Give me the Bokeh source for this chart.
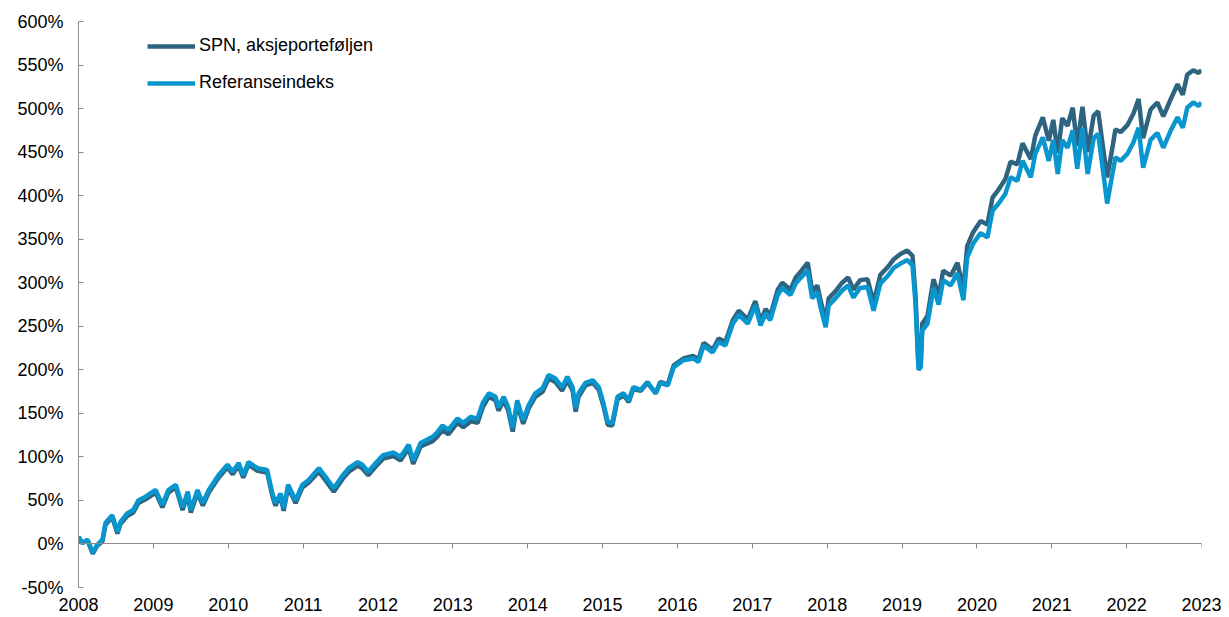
from bokeh.plotting import figure
from bokeh.models import (Range1d, FixedTicker, PrintfTickFormatter, LinearAxis,
                          Legend, LegendItem)
from bokeh.embed import file_html
from bokeh.resources import INLINE

YEARS = [
    2008.00, 2008.05, 2008.12, 2008.19, 2008.25, 2008.32, 2008.36, 2008.45, 2008.52, 2008.56,
    2008.65, 2008.73, 2008.80, 2008.89, 2009.03, 2009.12, 2009.20, 2009.30, 2009.39, 2009.46,
    2009.50, 2009.59, 2009.66, 2009.74, 2009.87, 2009.99, 2010.06, 2010.14, 2010.20, 2010.27,
    2010.39, 2010.52, 2010.59, 2010.63, 2010.70, 2010.74, 2010.80, 2010.90, 2010.99, 2011.07,
    2011.21, 2011.30, 2011.41, 2011.53, 2011.61, 2011.73, 2011.79, 2011.87, 2011.97, 2012.07,
    2012.21, 2012.30, 2012.41, 2012.47, 2012.57, 2012.73, 2012.79, 2012.86, 2012.94, 2013.06,
    2013.14, 2013.24, 2013.33, 2013.40, 2013.48, 2013.57, 2013.61, 2013.68, 2013.74, 2013.80,
    2013.86, 2013.94, 2014.01, 2014.10, 2014.20, 2014.28, 2014.37, 2014.46, 2014.53, 2014.60,
    2014.64, 2014.68, 2014.77, 2014.87, 2014.95, 2015.01, 2015.07, 2015.13, 2015.20, 2015.28,
    2015.35, 2015.41, 2015.51, 2015.60, 2015.71, 2015.77, 2015.87, 2015.95, 2016.08, 2016.21,
    2016.28, 2016.35, 2016.47, 2016.55, 2016.64, 2016.74, 2016.82, 2016.94, 2017.04, 2017.11,
    2017.18, 2017.24, 2017.34, 2017.40, 2017.51, 2017.58, 2017.64, 2017.74, 2017.80, 2017.87,
    2017.91, 2017.98, 2018.02, 2018.11, 2018.20, 2018.28, 2018.35, 2018.44, 2018.54, 2018.62,
    2018.71, 2018.81, 2018.89, 2018.98, 2019.07, 2019.14, 2019.18, 2019.22, 2019.25, 2019.27,
    2019.34, 2019.42, 2019.49, 2019.55, 2019.65, 2019.74, 2019.82, 2019.87, 2019.95, 2020.05,
    2020.14, 2020.21, 2020.29, 2020.38, 2020.45, 2020.54, 2020.61, 2020.72, 2020.78, 2020.88,
    2020.96, 2021.02, 2021.08, 2021.14, 2021.21, 2021.28, 2021.34, 2021.41, 2021.48, 2021.56,
    2021.62, 2021.69, 2021.74, 2021.81, 2021.85, 2021.92, 2022.01, 2022.09, 2022.16, 2022.22,
    2022.32, 2022.41, 2022.49, 2022.59, 2022.68, 2022.75, 2022.81, 2022.89, 2022.96, 2023.00,
]

REFERANSE = [
    8, 1, 5, -10, -1, 5, 24, 33, 14, 25,
    35, 39, 50, 54, 62, 45, 62, 68, 42, 60,
    39, 62, 47, 62, 79, 91, 83, 93, 79, 94,
    87, 85, 58, 47, 58, 41, 68, 50, 68, 73,
    87, 77, 64, 79, 87, 94, 91, 83, 93, 102,
    105, 100, 114, 96, 116, 123, 128, 136, 131, 144,
    139, 146, 144, 162, 173, 169, 157, 169, 157, 133,
    165, 142, 159, 173, 179, 194, 190, 180, 192, 180,
    156, 173, 185, 188, 180, 162, 140, 139, 169, 173,
    165, 180, 177, 186, 173, 185, 182, 203, 211, 213,
    209, 228, 220, 232, 228, 253, 263, 253, 274, 251,
    265, 257, 286, 294, 286, 299, 305, 314, 282, 289,
    272, 249, 274, 282, 291, 297, 283, 294, 295, 268,
    299, 308, 317, 322, 326, 320, 276, 200, 203, 245,
    253, 294, 275, 303, 297, 311, 280, 329, 345, 357,
    352, 383, 391, 402, 421, 417, 440, 421, 448, 467,
    440, 464, 425, 464, 455, 475, 431, 477, 425, 466,
    471, 425, 391, 425, 444, 440, 448, 461, 478, 432,
    464, 472, 455, 475, 490, 478, 501, 507, 503, 507,
]

SPN = [
    8, 1, 4, -11, -2, 3, 22, 31, 12, 23,
    32, 36, 47, 51, 59, 42, 59, 65, 39, 57,
    36, 59, 44, 59, 76, 88, 80, 90, 76, 91,
    84, 82, 55, 44, 55, 38, 65, 47, 65, 70,
    83, 73, 60, 75, 83, 90, 87, 79, 89, 98,
    101, 96, 110, 92, 112, 118, 123, 131, 126, 139,
    134, 141, 139, 157, 169, 165, 153, 165, 153, 129,
    161, 138, 155, 169, 175, 190, 186, 176, 188, 176,
    152, 169, 182, 185, 177, 159, 137, 136, 166, 171,
    163, 178, 176, 185, 173, 186, 183, 205, 213, 216,
    212, 231, 223, 236, 232, 257, 268, 258, 279, 256,
    270, 262, 292, 300, 292, 306, 312, 323, 290, 297,
    280, 256, 282, 290, 300, 306, 292, 303, 304, 277,
    309, 318, 327, 333, 337, 331, 285, 205, 209, 253,
    262, 304, 285, 314, 308, 323, 292, 342, 358, 371,
    367, 398, 407, 419, 439, 436, 460, 442, 469, 490,
    463, 487, 449, 489, 480, 501, 457, 502, 450, 492,
    497, 452, 421, 455, 476, 473, 481, 494, 511, 466,
    499, 507, 491, 511, 528, 516, 539, 544, 541, 544,
]

X_TICKS = list(range(2008, 2024))
Y_TICKS = list(range(-50, 601, 50))
SERIES_NAMES = ["SPN, aksjeporteføljen", "Referanseindeks"]

FONT = "Liberation Sans"
FS = "18px"
AXIS_GREY = "#8c8c8c"
DARK = "#2f6480"
LIGHT = "#0996cf"

p = figure(width=1229, height=617, output_backend="svg", toolbar_location=None,
           x_range=Range1d(2008, 2023), y_range=Range1d(-50, 600),
           min_border_left=78, min_border_right=28, min_border_top=21,
           min_border_bottom=30)
p.outline_line_color = None
p.xgrid.visible = False
p.ygrid.visible = False
p.background_fill_color = "white"
p.border_fill_color = "white"

# bottom axis: labels only
xa = p.xaxis[0]
xa.ticker = FixedTicker(ticks=X_TICKS)
xa.formatter = PrintfTickFormatter(format="%d")
xa.axis_line_alpha = 0
xa.major_tick_in = 0
xa.major_tick_out = 0
xa.minor_tick_line_color = None
xa.major_label_standoff = 10
xa.major_label_text_font = FONT
xa.major_label_text_font_size = FS
xa.major_label_text_color = "black"

# zero line with ticks pointing down
zero_axis = LinearAxis(fixed_location=0, ticker=FixedTicker(ticks=X_TICKS),
                       axis_line_color=AXIS_GREY, axis_line_width=1,
                       major_tick_line_color=AXIS_GREY, major_tick_in=5,
                       major_tick_out=0, minor_tick_line_color=None,
                       major_label_text_alpha=0, major_label_text_font_size="1px",
                       major_label_standoff=0)
p.add_layout(zero_axis, "above")

ya = p.yaxis[0]
ya.ticker = FixedTicker(ticks=Y_TICKS)
ya.formatter = PrintfTickFormatter(format="%d%%")
ya.axis_line_color = AXIS_GREY
ya.major_tick_line_color = AXIS_GREY
ya.major_tick_in = 5
ya.major_tick_out = 0
ya.minor_tick_line_color = None
ya.major_label_standoff = 15
ya.major_label_text_font = FONT
ya.major_label_text_font_size = FS
ya.major_label_text_color = "black"

r_spn = p.line(YEARS, SPN, line_color=DARK, line_width=4.5)
r_ref = p.line(YEARS, REFERANSE, line_color=LIGHT, line_width=4.5)

legend = Legend(items=[LegendItem(label=SERIES_NAMES[0], renderers=[r_spn]),
                       LegendItem(label=SERIES_NAMES[1], renderers=[r_ref])],
                location=(69, 494), padding=0, margin=0, spacing=16,
                glyph_width=48, glyph_height=20, label_height=20,
                label_standoff=4, label_text_font=FONT, label_text_font_size=FS,
                label_text_color="black", border_line_color=None,
                background_fill_alpha=0)
p.add_layout(legend, "center")

open("out.html", "w").write(file_html(p, INLINE))
